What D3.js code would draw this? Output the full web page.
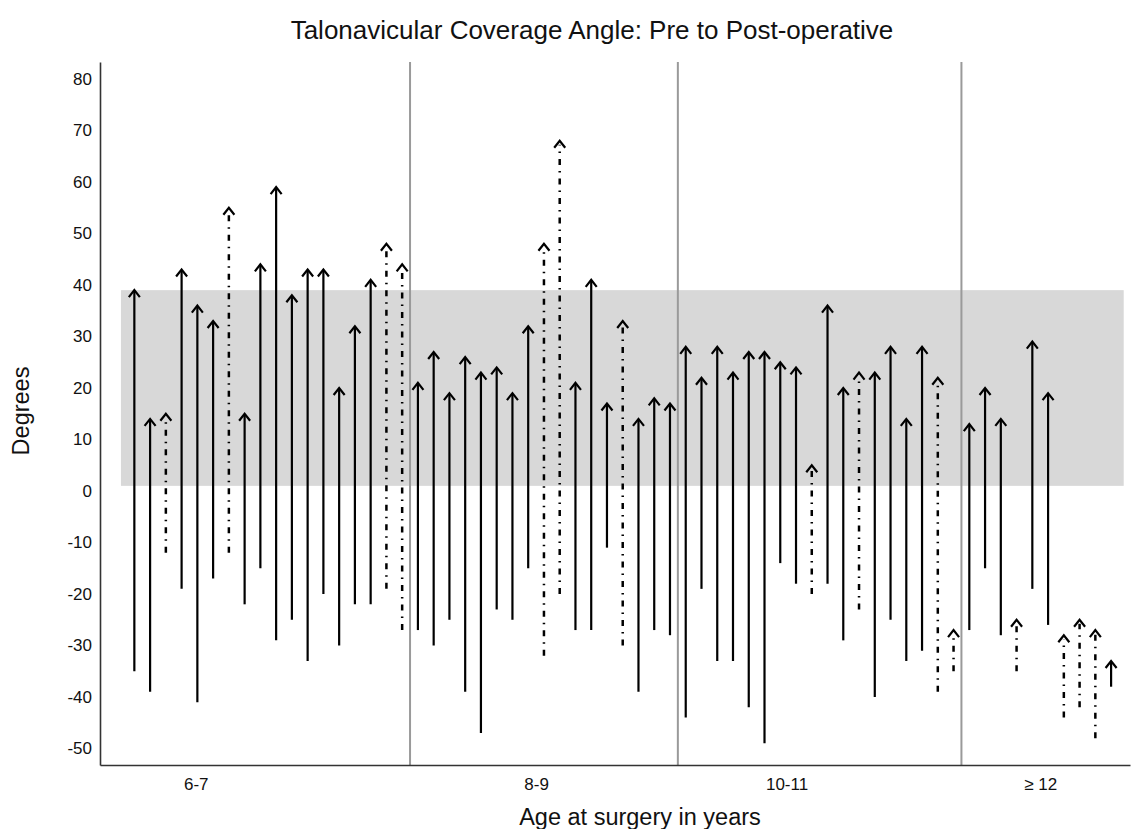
<!DOCTYPE html>
<html>
<head>
<meta charset="utf-8">
<script src="https://cdn.jsdelivr.net/npm/d3@7/dist/d3.min.js"></script>
<style>
  html, body { margin: 0; padding: 0; background: #fff; }
  svg { display: block; font-family: "Liberation Sans", Arial, Helvetica, sans-serif; }
</style>
</head>
<body>
<svg id="chart" width="1134" height="829"></svg>
<script>
// ---- data ----
const groups = ["6-7", "8-9", "10-11", "\u2265 12"];
const groupSizes = [18, 17, 18, 10];
const groupLabelPos = [3.9, 25.5, 41.4, 57.5];   // position (case index) of each group label
const preOp = [
  -35,-39,-12,-19,-41,-17,-12,-22,-15,-29,-25,-33,-20,-30,-22,-22,-19,-27,
  -27,-30,-25,-39,-47,-23,-25,-15,-32,-20,-27,-27,-11,-30,-39,-27,-28,
  -44,-19,-33,-33,-42,-49,-14,-18,-20,-18,-29,-23,-40,-25,-33,-31,-39,-35,
  -27,-15,-28,-35,-19,-26,-44,-42,-48,-38
];
const postOp = [
  39,14,15,43,36,33,55,15,44,59,38,43,43,20,32,41,48,44,
  21,27,19,26,23,24,19,32,48,68,21,41,17,33,14,18,17,
  28,22,28,23,27,27,25,24,5,36,20,23,23,28,14,28,22,-27,
  13,20,14,-25,29,19,-28,-25,-27,-33
];
const dashed = [
  0,0,1,0,0,0,1,0,0,0,0,0,0,0,0,0,1,1,
  0,0,0,0,0,0,0,0,1,1,0,0,0,1,0,0,0,
  0,0,0,0,0,0,0,0,1,0,0,1,0,0,0,0,1,1,
  0,0,0,1,0,0,1,1,1,0
];
const normalRange = [1, 39];
const yTicks = [80,70,60,50,40,30,20,10,0,-10,-20,-30,-40,-50];

// ---- layout ----
const svg = d3.select("#chart");
const x = d3.scaleLinear().domain([-2.18, 63.2]).range([100, 1130]);
const y = d3.scaleLinear().domain([-53.2, 83.3]).range([765, 62]);

// normal range band
svg.append("rect")
  .attr("x", x(-0.85)).attr("width", x(62.8) - x(-0.85))
  .attr("y", y(normalRange[1])).attr("height", y(normalRange[0]) - y(normalRange[1]))
  .attr("fill", "#d8d8d8");

// group separators
let cum = 0;
const seps = [];
groupSizes.slice(0, -1).forEach(n => { cum += n; seps.push(cum - 0.5); });
svg.selectAll("line.sep").data(seps).enter().append("line")
  .attr("class", "sep")
  .attr("x1", d => x(d)).attr("x2", d => x(d))
  .attr("y1", y.range()[1]).attr("y2", y.range()[0])
  .attr("stroke", "#9a9a9a").attr("stroke-width", 2);

// arrows
const data = preOp.map((p, i) => ({ i, pre: p, post: postOp[i], dashed: dashed[i] === 1 }));
const g = svg.append("g");
g.selectAll("line.shaft").data(data).enter().append("line")
  .attr("class", "shaft")
  .attr("x1", d => x(d.i)).attr("x2", d => x(d.i))
  .attr("y1", d => y(d.pre)).attr("y2", d => y(d.post) + (d.dashed ? 4 : 1))
  .attr("stroke", "#000").attr("stroke-width", d => d.dashed ? 2.5 : 2.2)
  .attr("stroke-dasharray", d => d.dashed ? "6,6,1.5,6" : null);
g.selectAll("path.head").data(data).enter().append("path")
  .attr("class", "head")
  .attr("d", d => {
    const cx = x(d.i), cy = y(d.post);
    return `M${cx - 5.5},${cy + 7}L${cx},${cy}L${cx + 5.5},${cy + 7}`;
  })
  .attr("fill", "none").attr("stroke", "#000").attr("stroke-width", 2.2)
  .attr("stroke-linejoin", "miter");

// y axis
const yAxis = d3.axisLeft(y).tickValues(yTicks).tickSize(0).tickPadding(8).tickFormat(d => String(d));
const ya = svg.append("g").attr("transform", "translate(100,0)").call(yAxis);
ya.select(".domain").attr("stroke", "#333").attr("stroke-width", 1.6);
ya.selectAll("text").attr("font-size", 17).attr("fill", "#111")
  .attr("font-family", "'Liberation Sans', Arial, sans-serif");

// x axis
const xAxis = d3.axisBottom(x).tickValues(groupLabelPos).tickSize(0).tickPadding(13)
  .tickFormat((d, k) => groups[k]);
const xa = svg.append("g").attr("transform", "translate(0,765)").call(xAxis);
xa.select(".domain").attr("stroke", "#333").attr("stroke-width", 1.6);
xa.selectAll("text").attr("font-size", 17).attr("fill", "#111")
  .attr("font-family", "'Liberation Sans', Arial, sans-serif");

// titles
svg.append("text").attr("x", 592).attr("y", 39).attr("text-anchor", "middle")
  .attr("font-size", 26).attr("fill", "#111")
  .text("Talonavicular Coverage Angle: Pre to Post-operative");
svg.append("text").attr("x", 640).attr("y", 825).attr("text-anchor", "middle")
  .attr("font-size", 23.5).attr("fill", "#111")
  .text("Age at surgery in years");
svg.append("text").attr("transform", "translate(29,411) rotate(-90)").attr("text-anchor", "middle")
  .attr("font-size", 23.5).attr("fill", "#111")
  .text("Degrees");
</script>
</body>
</html>
